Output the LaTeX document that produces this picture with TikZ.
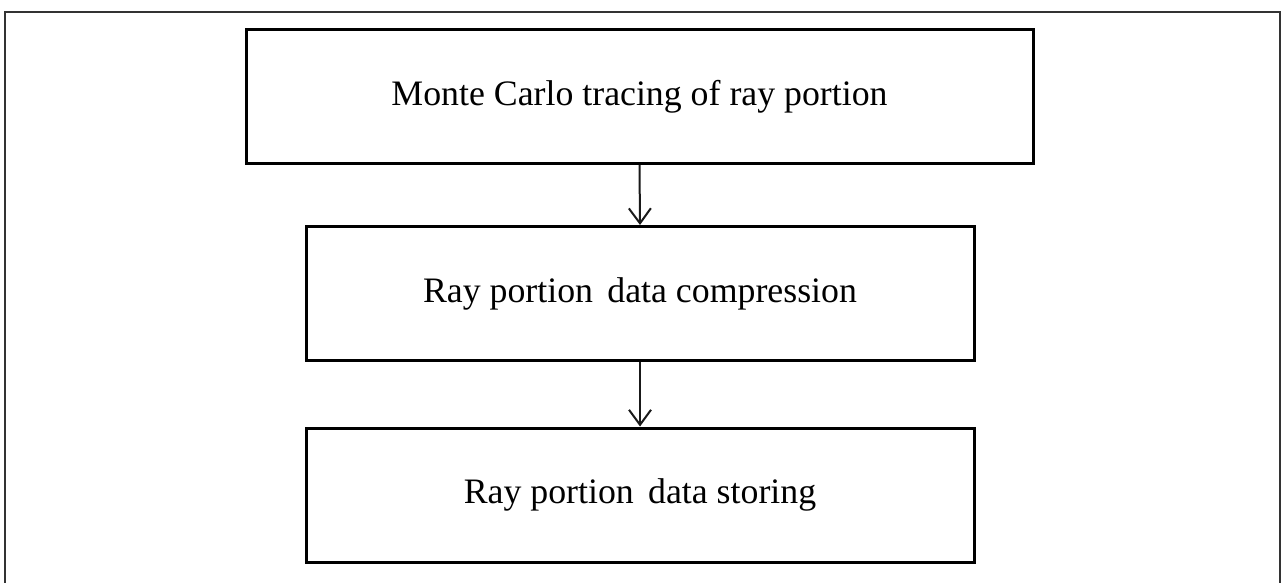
\documentclass[tikz,border=0pt]{standalone}
\usepackage{fontspec}
\setmainfont{Liberation Serif}
\usetikzlibrary{arrows.meta}
\begin{document}
\begin{tikzpicture}[x=1pt,y=-1pt,
  stepbox/.style={draw=black,line width=3pt,minimum height=134pt,inner sep=0pt,font=\fontsize{35.8}{42}\selectfont},
  flow/.style={draw=black!90,line width=2pt,-{Straight Barb[length=15pt,width=22pt,line width=2pt]}}]
  \useasboundingbox (0,0) rectangle (1281,582);
  \fill[white] (0,0) rectangle (1281,582);
  % outer frame, running past the lower edge
  \begin{scope}
    \clip (0,0) rectangle (1281,582);
    \draw[black!80,line width=2pt] (5,12) rectangle (1279.5,600);
  \end{scope}
  \node[stepbox,minimum width=787pt] (trace) at (639.5,96.5) {Monte Carlo tracing of ray portion};
  \node[stepbox,minimum width=668pt] (comp) at (640,293.5) {Ray portion\hspace{0.15em} data compression};
  \node[stepbox,minimum width=668pt] (store) at (640,495) {Ray portion\hspace{0.15em} data storing};
  \draw[flow] (trace.south) -- (comp.north);
  \draw[flow] (comp.south) -- (store.north);
\end{tikzpicture}
\end{document}
